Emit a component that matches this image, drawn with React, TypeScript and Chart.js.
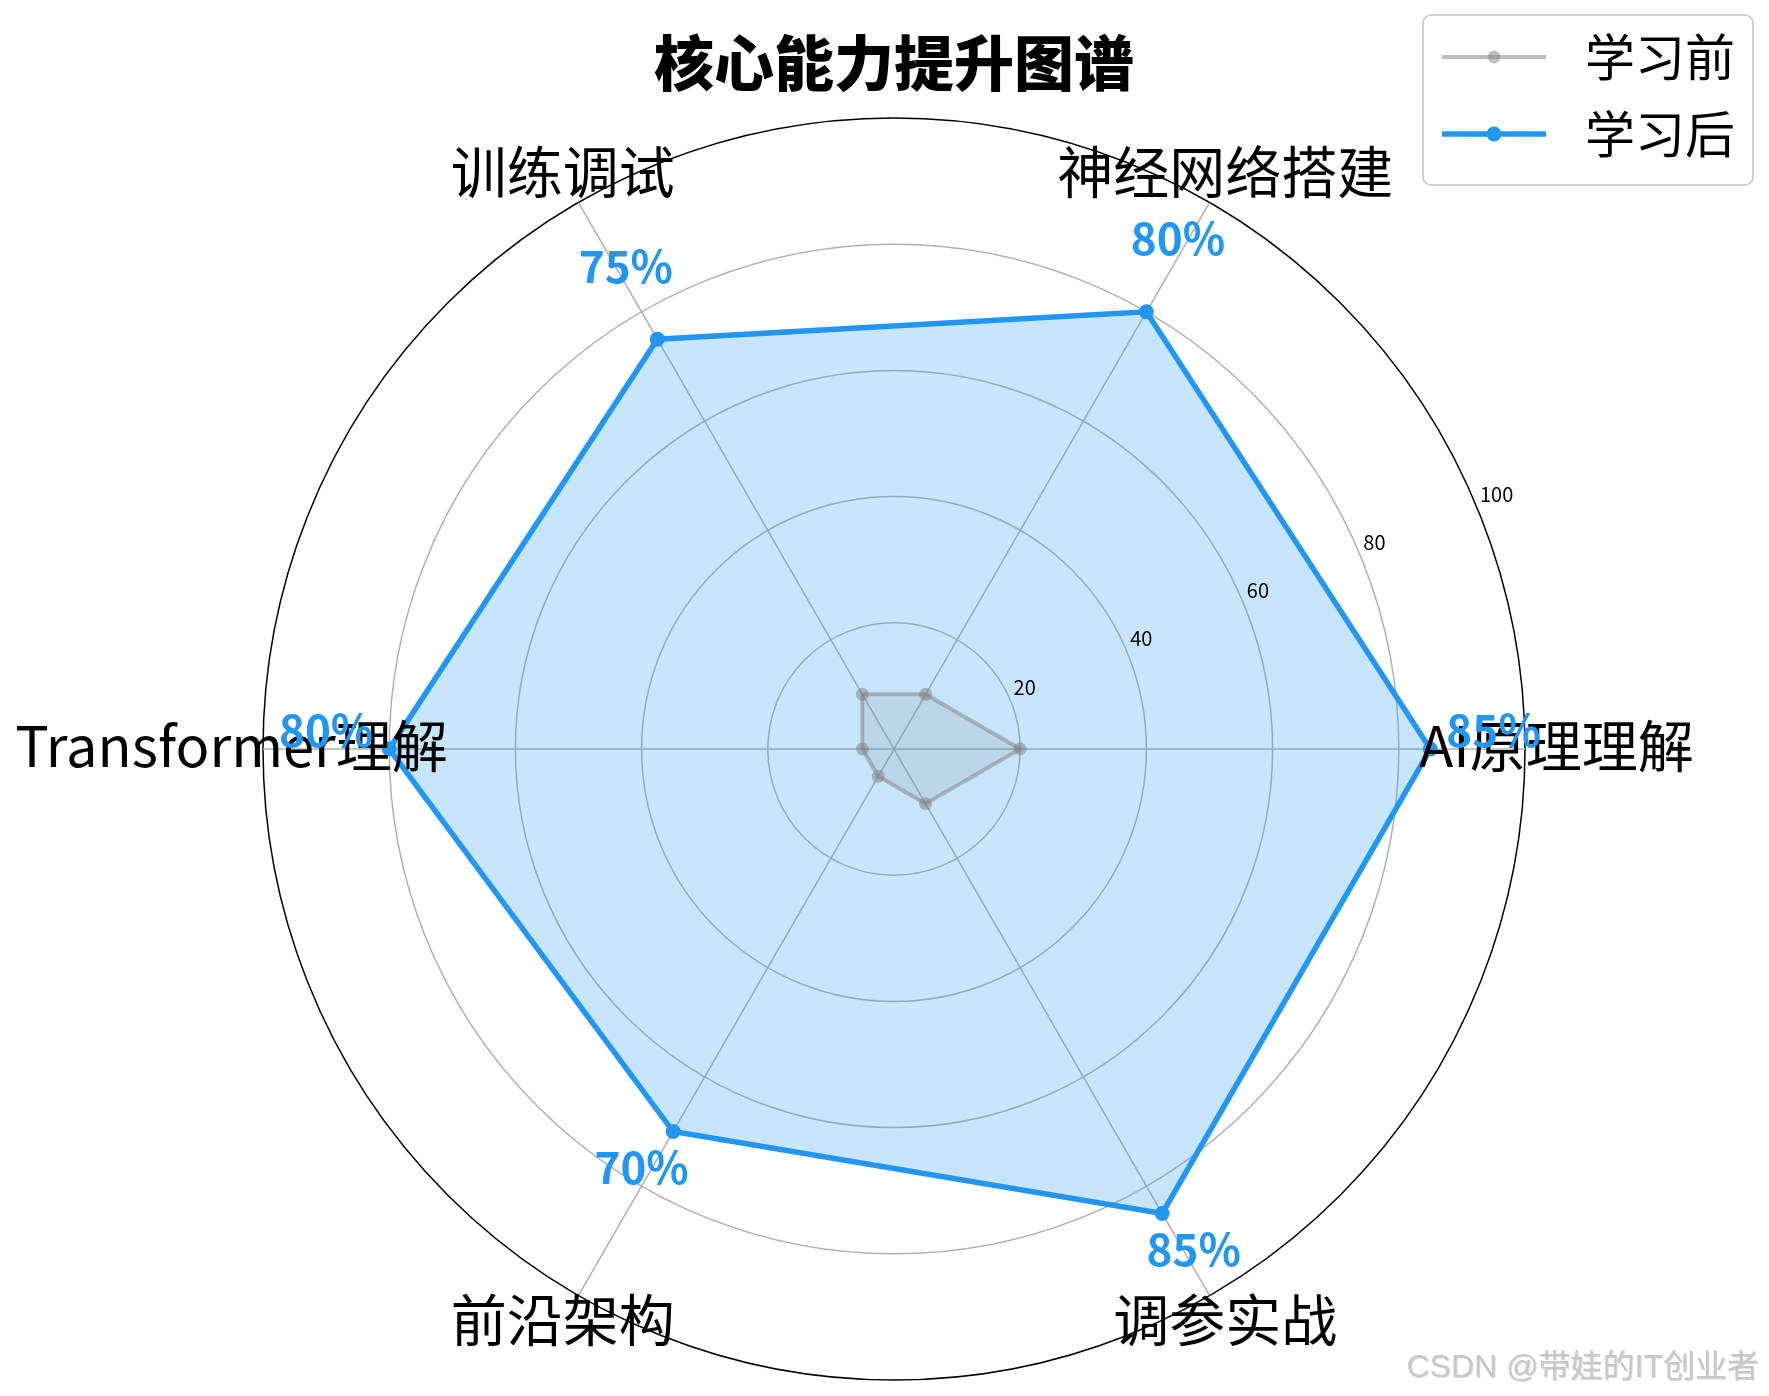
import { useEffect, useRef } from 'react';
import { Chart, registerables } from 'chart.js';

Chart.register(...registerables);

const categories = ['AI原理理解', '调参实战', '前沿架构', 'Transformer理解', '训练调试', '神经网络搭建'];
const beforeValues = [20, 10, 5, 5, 10, 10];
const afterValues = [85, 85, 70, 80, 75, 80];
const tickValues = [20, 40, 60, 80, 100];
const seriesNames = ['学习前', '学习后'];
const titleText = '核心能力提升图谱';
const watermarkText = 'CSDN @带娃的IT创业者';

const FONT = '"Noto Sans CJK SC", "Noto Sans", sans-serif';
const BLUE = '#2196F3';
const GREY_A = 'rgba(128,128,128,0.5)';

const overlayPlugin = {
  id: 'overlay',
  afterDatasetsDraw(chart: any) {
    const ctx = chart.ctx as CanvasRenderingContext2D;
    const r = chart.scales.r;
    ctx.save();

    // radial tick labels along 22.5°
    const a = (22.5 * Math.PI) / 180;
    ctx.font = `20px ${FONT}`;
    ctx.fillStyle = '#000';
    ctx.textAlign = 'left';
    ctx.textBaseline = 'alphabetic';
    tickValues.forEach((v) => {
      const d = r.getDistanceFromCenterForValue(v);
      const x = r.xCenter + d * Math.cos(a);
      const y = r.yCenter - d * Math.sin(a);
      ctx.fillText(String(v), x + 3, y - 6);
    });

    // category labels
    ctx.font = `56px ${FONT}`;
    ctx.textAlign = 'center';
    ctx.fillStyle = '#000';
    categories.forEach((c, i) => {
      const p = r.getPointPositionForValue(i, 105);
      ctx.fillText(c, p.x, p.y + 18);
    });

    // percent labels
    ctx.font = `bold 44px ${FONT}`;
    ctx.fillStyle = BLUE;
    afterValues.forEach((v, i) => {
      const p = r.getPointPositionForValue(i, v + 10);
      ctx.fillText(`${v}%`, p.x, p.y - 2);
    });

    // title
    ctx.font = `900 60px ${FONT}`;
    ctx.fillStyle = '#000';
    ctx.fillText(titleText, r.xCenter, 78);

    // legend
    const bx = 1415, by = 7, bw = 330, bh = 170;
    ctx.beginPath();
    ctx.roundRect(bx, by, bw, bh, 8);
    ctx.fillStyle = 'rgba(255,255,255,0.85)';
    ctx.fill();
    ctx.strokeStyle = '#d0d0d0';
    ctx.lineWidth = 2;
    ctx.stroke();

    const entries = [
      { name: seriesNames[0], color: GREY_A, lw: 4, mr: 6.5, y: 49 },
      { name: seriesNames[1], color: BLUE, lw: 5.5, mr: 7.5, y: 126 },
    ];
    entries.forEach((e) => {
      ctx.beginPath();
      ctx.moveTo(1434, e.y);
      ctx.lineTo(1538, e.y);
      ctx.strokeStyle = e.color;
      ctx.lineWidth = e.lw;
      ctx.stroke();
      ctx.beginPath();
      ctx.arc(1486, e.y, e.mr, 0, Math.PI * 2);
      ctx.fillStyle = e.color;
      ctx.fill();
      ctx.font = `50px ${FONT}`;
      ctx.fillStyle = '#000';
      ctx.textAlign = 'left';
      ctx.fillText(e.name, 1577, e.y + 19);
    });

    // watermark
    ctx.font = `32px "Liberation Sans", ${FONT}`;
    ctx.textAlign = 'right';
    ctx.fillStyle = '#c8c8c8';
    ctx.shadowColor = 'rgba(0,0,0,0.15)';
    ctx.shadowOffsetX = 1;
    ctx.shadowOffsetY = 1;
    ctx.fillText(watermarkText, 1751, 1369);

    ctx.restore();
  },
};

export default function App() {
  const ref = useRef<HTMLCanvasElement | null>(null);

  useEffect(() => {
    if (!ref.current) return;
    Chart.defaults.font.family = FONT;
    const chart = new Chart(ref.current, {
      type: 'radar',
      data: {
        labels: categories,
        datasets: [
          {
            label: seriesNames[0],
            data: beforeValues,
            borderColor: GREY_A,
            backgroundColor: 'rgba(128,128,128,0.15)',
            borderWidth: 4,
            pointRadius: 6.5,
            pointBackgroundColor: GREY_A,
            pointBorderWidth: 0,
            fill: true,
            tension: 0,
          },
          {
            label: seriesNames[1],
            data: afterValues,
            borderColor: BLUE,
            backgroundColor: 'rgba(33,150,243,0.25)',
            borderWidth: 5.5,
            pointRadius: 7.5,
            pointBackgroundColor: BLUE,
            pointBorderWidth: 0,
            fill: true,
            tension: 0,
          },
        ],
      },
      options: {
        responsive: false,
        animation: false,
        layout: { padding: { left: 255, right: 236, top: 110, bottom: 8 } },
        plugins: {
          legend: { display: false },
          title: { display: false },
          tooltip: { enabled: false },
        },
        scales: {
          r: {
            min: 0,
            max: 100,
            startAngle: 90,
            ticks: { stepSize: 20, display: false },
            pointLabels: { display: false },
            grid: {
              circular: true,
              color: (c: any) => (c.tick && c.tick.value === 100 ? '#000000' : '#b0b0b0'),
              lineWidth: 1.5,
            },
            angleLines: { color: '#b0b0b0', lineWidth: 1.5 },
          },
        },
      },
      plugins: [overlayPlugin],
    });
    return () => chart.destroy();
  }, []);

  return (
    <div>
      <canvas ref={ref} width={1753} height={1380} style={{ display: 'block' }} />
    </div>
  );
}
